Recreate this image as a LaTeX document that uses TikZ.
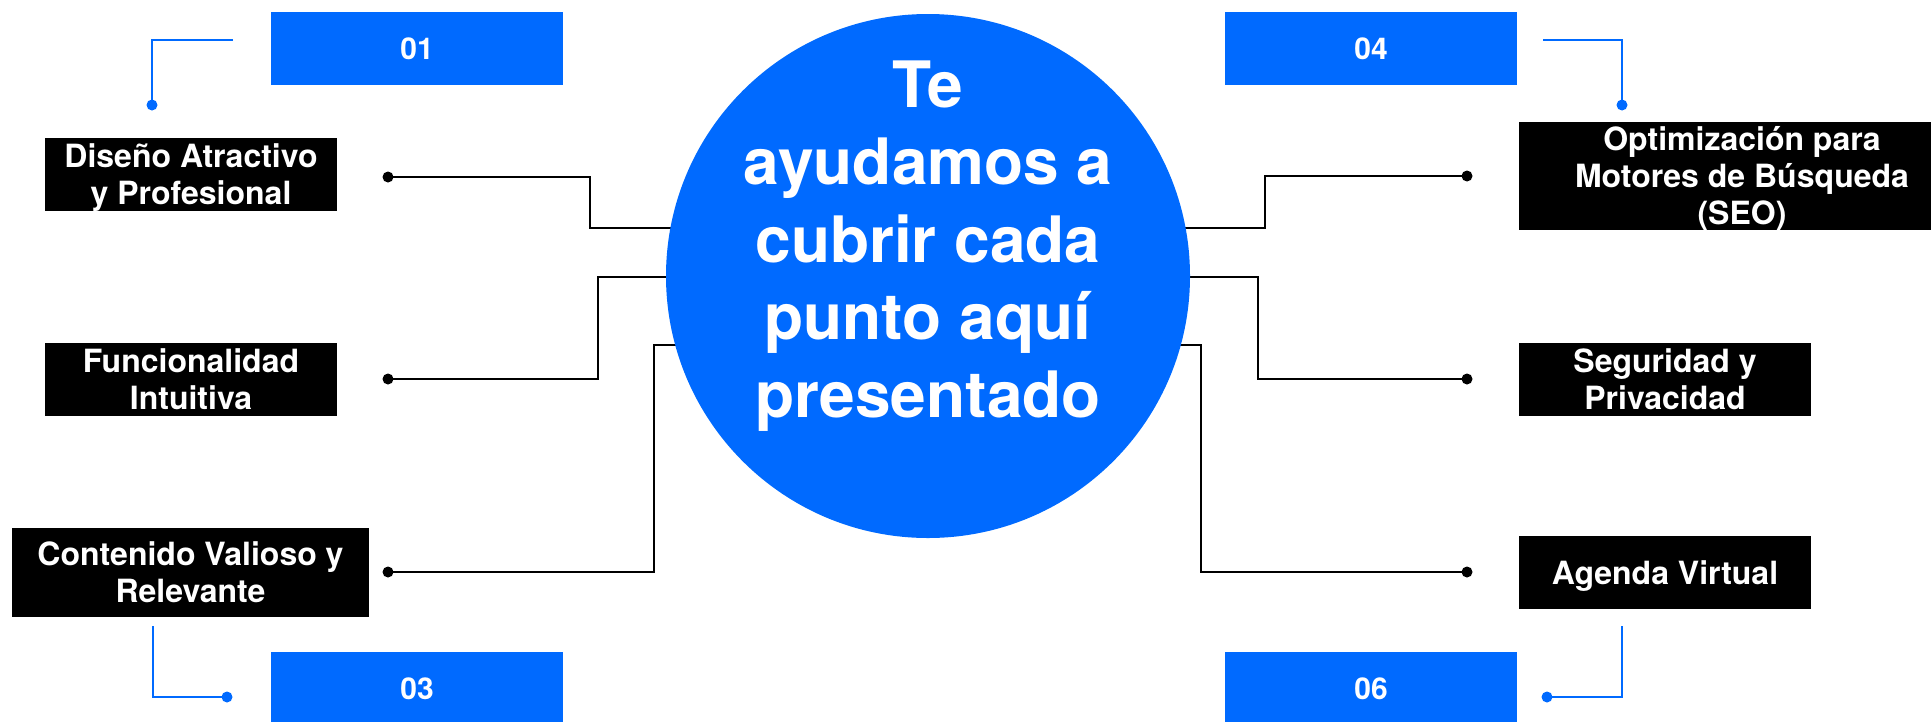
\documentclass[tikz,border=0pt]{standalone}
\usepackage{fontspec}
\setmainfont{TeX Gyre Heros}
\definecolor{brandblue}{RGB}{0,106,255}
\pgfdeclarelayer{bg}
\pgfsetlayers{bg,main}
\begin{document}
\begin{tikzpicture}[x=1pt,y=-1pt,
  numbox/.style={fill=brandblue, minimum width=292, minimum height=73, inner sep=0, text=white, font=\fontsize{30}{36}\selectfont\bfseries},
  txtlabel/.style={inner sep=0, text=white, align=center, font=\fontsize{32}{37}\selectfont\bfseries},
  txtbox/.style={txtlabel, fill=black},
  conn/.style={draw=black, line width=2.5},
  link/.style={draw=brandblue, line width=2},
]
\useasboundingbox (0,0) rectangle (1931,721);
\clip (0,0) rectangle (1931,721);

% hub
\node[circle, fill=brandblue, minimum size=524, inner sep=0] (hub) at (928,276) {};
\node[text=white, align=center, inner sep=0, font=\fontsize{64}{77.5}\selectfont\bfseries] (hubtext) at (928,246)
  {Te\\ayudamos a\\cubrir cada\\punto aquí\\presentado};

% number boxes
\node[numbox] (n01) at (417,48.5) {01};
\node[numbox] (n04) at (1371,48.5) {04};
\node[numbox] (n03) at (417,688.5) {03};
\node[numbox] (n06) at (1371,688.5) {06};

% text boxes
\node[txtbox, minimum width=292, minimum height=73] (t1) at (191,174.5) {};
\node[txtlabel] (t1text) at (191,177.5) {Diseño Atractivo\\y Profesional};
\node[txtbox, minimum width=292, minimum height=73] (t2) at (191,379.5) {Funcionalidad\\Intuitiva};
\node[txtbox, minimum width=357, minimum height=89] (t3) at (190.5,572.5) {Contenido Valioso y\\Relevante};
\node[txtbox, minimum width=446, minimum height=108] (t4) at (1742,176) {};
\node[txtlabel] (t4text) at (1742,179) {Optimización para\\Motores de Búsqueda\\(SEO)};
\node[txtbox, minimum width=292, minimum height=73] (t5) at (1665,379.5) {Seguridad y\\Privacidad};
\node[txtbox, minimum width=292, minimum height=73, text height=23, text depth=0] (t6) at (1665,572.5) {Agenda Virtual};

% black connector points
\coordinate (d1) at (388,177);  \coordinate (m1) at (590,228);
\coordinate (d2) at (388,379);  \coordinate (m2) at (598,277);
\coordinate (d3) at (388,572);  \coordinate (m3) at (654,345);
\coordinate (d4) at (1467,176); \coordinate (m4) at (1265,228);
\coordinate (d5) at (1467,379); \coordinate (m5) at (1258,277);
\coordinate (d6) at (1467,572); \coordinate (m6) at (1201,345);

\begin{pgfonlayer}{bg}
  \foreach \i in {1,...,6} {
    \draw[conn] (d\i) -| (m\i) -- (m\i -| hub.center);
  }
\end{pgfonlayer}
\foreach \i in {1,...,6} { \fill (d\i) circle (5.5); }

% blue links
\coordinate (s1) at (233,40);   \coordinate (e1) at (152,105);
\coordinate (s4) at (1543,40);  \coordinate (e4) at (1622,105);
\coordinate (s3) at (153,626);  \coordinate (e3) at (227,697);
\coordinate (s6) at (1622,626); \coordinate (e6) at (1547,697);
\draw[link] (s1) -| (e1);
\draw[link] (s4) -| (e4);
\draw[link] (s3) |- (e3);
\draw[link] (s6) |- (e6);
\foreach \p in {e1,e4,e3,e6} { \fill[brandblue] (\p) circle (5.5); }
\end{tikzpicture}
\end{document}
